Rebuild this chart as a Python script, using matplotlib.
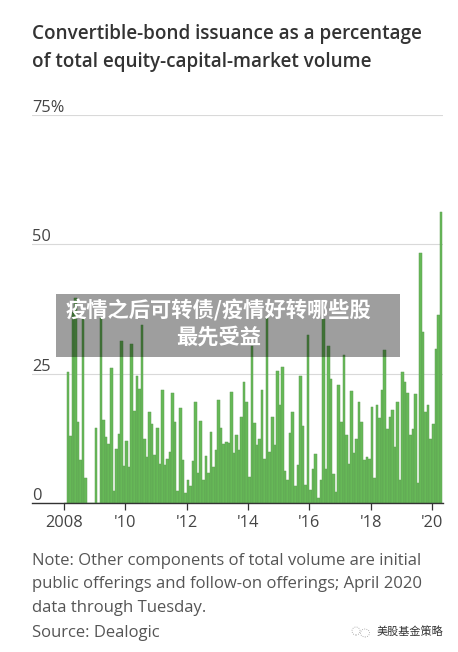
import numpy as np
import matplotlib
matplotlib.use('Agg')
import matplotlib.pyplot as plt
from matplotlib.patches import Rectangle, Ellipse
from matplotlib.transforms import ScaledTranslation

# monthly share, Jan 2008 - Apr 2020
share = [0, 25.3, 12.9, 37, 39.7, 15.6, 8.3, 35.5, 4.9, 0, 0, 0,
         14.5, 0, 35.8, 16, 12.7, 11.5, 26, 2.3, 10.4, 13.4, 31.3, 7.1,
         12, 7, 30.8, 17.7, 24.5, 22, 34.5, 12.3, 8.9, 17.5, 15.3, 9.2,
         14.5, 7.5, 21.8, 7.3, 8.6, 9.9, 21.2, 15.6, 2.4, 18.3, 8.3, 1.9,
         4.5, 3.2, 8.1, 19.6, 5.8, 15.9, 4.5, 9, 5.8, 13.8, 7, 10.2,
         19.9, 14.5, 11.4, 11.8, 11.6, 21.4, 9.6, 13.1, 10.2,
         16.7, 23.4, 19.6, 5, 30.3, 15.4, 11.2, 12.3, 21.8, 8.6, 36, 9.9,
         16.7, 11.2, 25.5, 19, 26.3, 6.2, 4.4, 13.6, 17.5, 3.2, 7.3, 24.5,
         14.8, 3.4, 32.5, 2.6, 6.5, 9.4, 1, 4.4, 35.5, 6.6, 30.3, 24,
         5.6, 2.1, 22.9, 15.6, 28.6, 13.1, 7.5, 21.6, 9.7, 12.3, 19.6, 15.6,
         8.4, 8.8, 8.6, 18.5, 4.9, 19, 16.4, 21.8, 29.5, 14.4, 16.6, 18,
         10.9, 19.6, 4.5, 25.3, 23.4, 21.2, 13.1, 14.3, 21, 3.9, 48.4, 33,
         17.5, 19, 12.3, 15.3, 29.7, 36.4, 56.2]
x_ticks = [2008, 2010, 2012, 2014, 2016, 2018, 2020]
x_labels = ['2008', "'10", "'12", "'14", "'16", "'18", "'20"]
y_ticks = [0, 25, 50, 75]
y_labels = ['0', '25', '50', '75%']

W, H = 458, 652
plt.rcParams['font.family'] = ['Open Sans', 'Noto Sans', 'DejaVu Sans']
fig = plt.figure(figsize=(W/100, H/100), dpi=100, facecolor='white')

# axes box in pixels: 32..443 wide, 115 (75%) .. 503 (zero)
ax = fig.add_axes([32/W, 1-503/H, (443-32)/W, (503-115)/H])
px_year = 30.67
ax.set_xlim(2008-(64-32)/px_year, 2008+(443-64)/px_year)
ax.set_ylim(0, 75)

months = 2008 + np.arange(len(share))/12
ax.bar(months, share, width=1/12, align='edge', color='#66b957',
       edgecolor='#5f9f55', linewidth=0.35, zorder=2)

ax.set_yticks(y_ticks)
ax.set_yticklabels(y_labels, fontsize=11.8, color='#444444', ha='left', va='bottom')
ax.set_xticks(x_ticks)
ax.set_xticklabels(x_labels, fontsize=11.8, color='#444444')
ax.tick_params(axis='y', length=0, pad=0)
ax.tick_params(axis='x', length=5, width=0.9, color='#333333', pad=3.5)
ax.grid(axis='y', color='#d9d9d9', linewidth=0.8, zorder=1)
for s in ['top', 'left', 'right']:
    ax.spines[s].set_visible(False)
ax.spines['bottom'].set_color('#333333')
ax.spines['bottom'].set_linewidth(1.0)
ax.set_axisbelow(True)
for lab in ax.get_yticklabels():
    lab.set_transform(lab.get_transform() + ScaledTranslation(0, -1/100, fig.dpi_scale_trans))


def px_text(x, y, s, **kw):
    return fig.text(x/W, 1-y/H, s, **kw)


px_text(32, 34.5, 'Convertible-bond issuance as a percentage', fontsize=13.6,
        fontweight='semibold', color='#333333', va='center')
px_text(32, 62.5, 'of total equity-capital-market volume', fontsize=13.6,
        fontweight='semibold', color='#333333', va='center')

note = ['Note: Other components of total volume are initial',
        'public offerings and follow-on offerings; April 2020',
        'data through Tuesday.', 'Source: Dealogic']
for yy, line in zip([561, 584, 608, 633], note):
    px_text(32, yy, line, fontsize=11.95, color='#555555', va='center')

# grey banner over the chart
fig.add_artist(Rectangle((56/W, 1-357/H), (400-56)/W, (357-294)/H,
                         transform=fig.transFigure, facecolor='black',
                         alpha=0.38, edgecolor='none', zorder=5))
cjk = ['Noto Sans CJK SC', 'DejaVu Sans']
px_text(218, 310, '疫情之后可转债/疫情好转哪些股', fontsize=15.3, fontweight='bold',
        color='white', family=cjk, ha='center', va='center', zorder=6)
px_text(219, 337, '最先受益', fontsize=15.3, fontweight='bold',
        color='white', family=cjk, ha='center', va='center', zorder=6)

# watermark
px_text(377, 631, '美股基金策略', fontsize=8, color='#333333', family=cjk,
        va='center', zorder=6)
for cx, cy, w, h in [(356, 631, 8, 8), (365, 633, 9, 8)]:
    fig.add_artist(Ellipse((cx/W, 1-cy/H), w/W, h/H, transform=fig.transFigure,
                           facecolor='none', edgecolor='#999999',
                           linewidth=0.6, linestyle=':', zorder=6))

plt.savefig('out.png', dpi=100)
